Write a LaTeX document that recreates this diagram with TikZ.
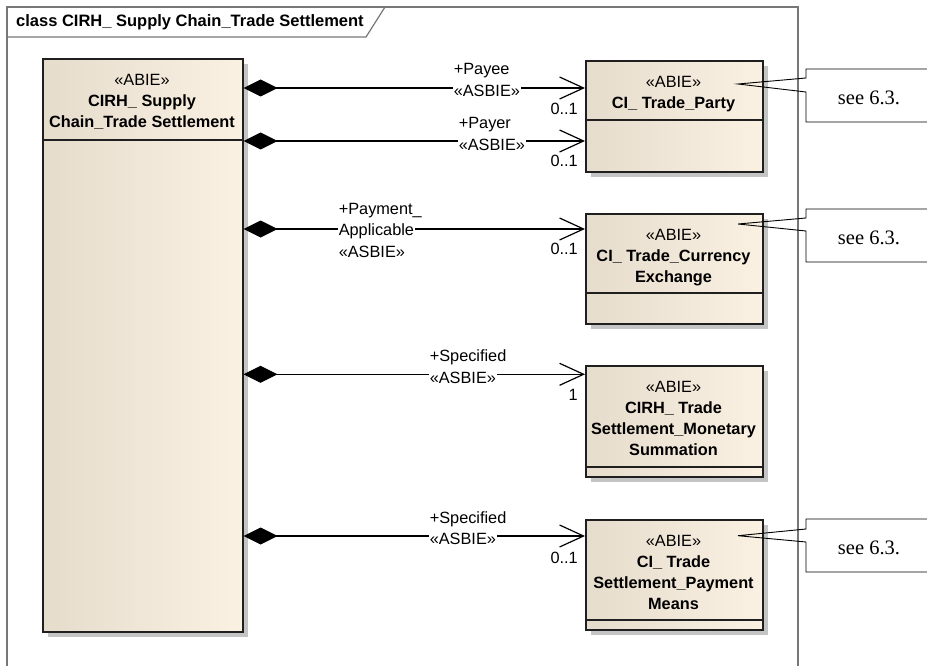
\documentclass[tikz,border=0pt]{standalone}
\usepackage{fontspec}
\setmainfont{Liberation Sans}
\newfontfamily\notefont{Liberation Serif}
\usetikzlibrary{arrows.meta,shadows}
\definecolor{boxL}{HTML}{E6DCCC}
\definecolor{boxR}{HTML}{FBF1E3}
\definecolor{frameC}{HTML}{777777}
\definecolor{shadowC}{HTML}{C4C4C4}
\begin{document}
\begin{tikzpicture}[x=1pt,y=-1pt,
  abie/.style={draw=black!88, line width=1.6pt, left color=boxL, right color=boxR,
    anchor=north west, inner sep=0pt, minimum width=177pt,
    general shadow={fill=shadowC, shadow xshift=5pt, shadow yshift=-5pt}},
  sepline/.style={draw=black!88, line width=1.6pt},
  btext/.style={align=center, inner sep=0pt, font=\fontsize{16.3}{21}\selectfont},
  lbl/.style={anchor=west, inner sep=0.6pt, font=\fontsize{16.3}{21}\selectfont},
  stereo/.style={lbl, fill=white},
  mult/.style={anchor=east, inner sep=0pt, font=\fontsize{16.3}{21}\selectfont},
  assoc/.style={draw, line width=1.2pt,
    {Diamond[length=34pt,width=17pt]}-{Straight Barb[length=24pt,width=22pt,line width=1.2pt]}},
  notebox/.style={draw, line width=0.9pt},
  notetext/.style={inner sep=0pt, font=\notefont\fontsize{20.5}{24}\selectfont},
  frame/.style={draw=frameC, line width=1.2pt}
]
\useasboundingbox (0,0) rectangle (927,666);
\fill[white] (0,0) rectangle (927,666);

% frame
\draw[frame] (7,666) -- (7,7) -- (798,7) -- (798,666);
\draw[frame] (7,37) -- (366,37) -- (385,7);
\node[anchor=west, inner sep=0pt, font=\bfseries\fontsize{16.5}{20}\selectfont] (title) at (16,22.7) {class CIRH\_ Supply Chain\_Trade Settlement};

% boxes
\node[abie, minimum width=200pt, minimum height=573pt] (main) at (42,58) {};
\draw[sepline] (main.west |- 0,140) -- (main.east |- 0,140);
\node[btext] (mainT) at (142,102) {«ABIE»\\\textbf{CIRH\_ Supply}\\\textbf{Chain\_Trade Settlement}};

\node[abie, minimum height=111pt] (party) at (585,60) {};
\draw[sepline] (party.west |- 0,120) -- (party.east |- 0,120);
\node[btext] (partyT) at (673.5,94.2) {«ABIE»\\\textbf{CI\_ Trade\_Party}};

\node[abie, minimum height=110pt] (curr) at (585,213) {};
\draw[sepline] (curr.west |- 0,293) -- (curr.east |- 0,293);
\node[btext] (currT) at (673.5,257.5) {«ABIE»\\\textbf{CI\_ Trade\_Currency}\\\textbf{Exchange}};

\node[abie, minimum height=111pt] (mon) at (585,365) {};
\draw[sepline] (mon.west |- 0,467) -- (mon.east |- 0,467);
\node[btext] (monT) at (673.5,418.5) {«ABIE»\\\textbf{CIRH\_ Trade}\\\textbf{Settlement\_Monetary}\\\textbf{Summation}};

\node[abie, minimum height=110pt] (means) at (585,519) {};
\draw[sepline] (means.west |- 0,620) -- (means.east |- 0,620);
\node[btext] (meansT) at (673.5,572.5) {«ABIE»\\\textbf{CI\_ Trade}\\\textbf{Settlement\_Payment}\\\textbf{Means}};

% associations
\draw[assoc] (main.east |- 0,88) -- (party.west |- 0,88);
\node[lbl] (payeeR) at (453,71) {+Payee};
\node[stereo] (payeeS) at (453,90.5) {«ASBIE»};
\node[mult] (payeeM) at (578,108.5) {0..1};

\draw[assoc] (main.east |- 0,141) -- (party.west |- 0,141);
\node[lbl] (payerR) at (458,125) {+Payer};
\node[stereo] (payerS) at (458,144.5) {«ASBIE»};
\node[mult] (payerM) at (578,161) {0..1};

\draw[assoc] (main.east |- 0,229) -- (curr.west |- 0,229);
\node[lbl] (payR) at (338,210.5) {+Payment\_};
\node[stereo] (payA) at (338,231) {Applicable};
\node[lbl] (payS) at (338,252) {«ASBIE»};
\node[mult] (payM) at (578,249) {0..1};

\draw[assoc] (main.east |- 0,374.3) -- (mon.west |- 0,374.3);
\node[lbl] (spec1R) at (429,357.3) {+Specified};
\node[stereo] (spec1S) at (429,377.5) {«ASBIE»};
\node[mult] (spec1M) at (578,395) {1};

\draw[assoc] (main.east |- 0,536) -- (means.west |- 0,536);
\node[lbl] (spec2R) at (429,519) {+Specified};
\node[stereo] (spec2S) at (429,539) {«ASBIE»};
\node[mult] (spec2M) at (578,558) {0..1};

% notes
\coordinate (a1) at (738,84);
\coordinate (a2) at (738,224);
\coordinate (a3) at (738,535.7);
\draw[notebox] (927,69) -- (806,69) -- (806,78) -- (a1) -- (806,92) -- (806,122) -- (927,122);
\node[notetext] (note1) at (869,97.5) {see 6.3.};
\draw[notebox] (927,209) -- (806,209) -- (806,218) -- (a2) -- (806,231) -- (806,262) -- (927,262);
\node[notetext] (note2) at (869,237.5) {see 6.3.};
\draw[notebox] (927,519) -- (806,519) -- (806,529) -- (a3) -- (806,542) -- (806,572) -- (927,572);
\node[notetext] (note3) at (869,547.5) {see 6.3.};
\end{tikzpicture}
\end{document}
